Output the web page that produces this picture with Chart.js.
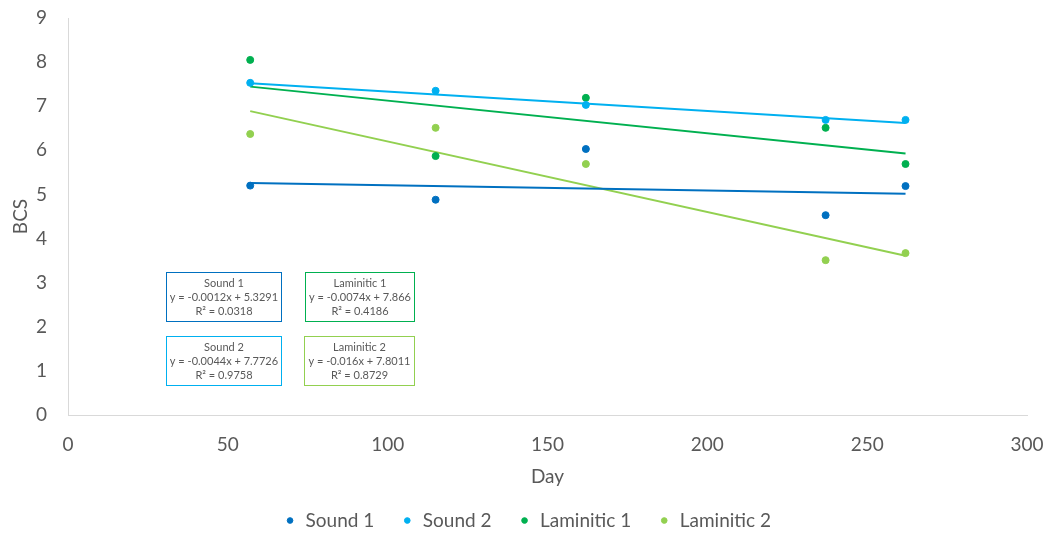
<!DOCTYPE html>
<html>
<head>
<meta charset="utf-8">
<script src="https://cdn.jsdelivr.net/npm/chart.js@4/dist/chart.umd.min.js"></script>
<style>
  html, body { margin: 0; padding: 0; background: #fff; }
  #wrap { width: 1055px; height: 533px; }
</style>
</head>
<body>
<div id="wrap"><canvas id="myChart" width="1055" height="533"></canvas></div>
<script>
// values
const days = [57, 115, 162, 237, 262];
const sound1 = [5.2, 4.88, 6.03, 4.53, 5.19];
const sound2 = [7.53, 7.35, 7.03, 6.69, 6.69];
const laminitic1 = [8.05, 5.87, 7.19, 6.51, 5.69];
const laminitic2 = [6.37, 6.51, 5.69, 3.51, 3.67];

const seriesNames = ["Sound 1", "Sound 2", "Laminitic 1", "Laminitic 2"];
const seriesColors = ["#0070C0", "#00B0F0", "#00B050", "#92D050"];
// trendline equations as printed in the boxes
const slopes = [-0.0012, -0.0044, -0.0074, -0.016];
const intercepts = [5.3291, 7.7726, 7.866, 7.8011];
const eqLabels = ["y = -0.0012x + 5.3291", "y = -0.0044x + 7.7726", "y = -0.0074x + 7.866", "y = -0.016x + 7.8011"];
const r2Labels = ["R² = 0.0318", "R² = 0.9758", "R² = 0.4186", "R² = 0.8729"];

const FONT = "Lato, 'Open Sans', sans-serif";
const TXT = "#595959";
const allSeries = [sound1, sound2, laminitic1, laminitic2];

const datasets = [];
allSeries.forEach((vals, i) => {
  datasets.push({
    label: seriesNames[i],
    data: days.map((d, k) => ({ x: d, y: vals[k] })),
    backgroundColor: seriesColors[i],
    borderColor: seriesColors[i],
    pointRadius: 3.5,
    pointHoverRadius: 3.5,
    pointStyle: "circle",
    showLine: false,
    order: 1,
  });
});
allSeries.forEach((vals, i) => {
  const x0 = days[0], x1 = days[days.length - 1];
  datasets.push({
    label: "trend " + seriesNames[i],
    data: [
      { x: x0, y: slopes[i] * x0 + intercepts[i] },
      { x: x1, y: slopes[i] * x1 + intercepts[i] },
    ],
    borderColor: seriesColors[i],
    borderWidth: 2,
    pointRadius: 0,
    showLine: true,
    fill: false,
    order: 2,
  });
});

// box anchors (data units): left-top corner, right edge
const boxes = [
  { s: 0, x0: 30.7, x1: 66.6, y: 3.24 },
  { s: 2, x0: 74.2, x1: 108.3, y: 3.24 },
  { s: 1, x0: 30.7, x1: 66.6, y: 1.79 },
  { s: 3, x0: 73.9, x1: 108.3, y: 1.79 },
];

const eqBoxes = {
  id: "eqBoxes",
  afterDatasetsDraw(chart) {
    const ctx = chart.ctx;
    const xs = chart.scales.x, ys = chart.scales.y;
    ctx.save();
    boxes.forEach((b) => {
      const left = Math.round(xs.getPixelForValue(b.x0)) + 0.5;
      const right = Math.round(xs.getPixelForValue(b.x1)) + 0.5;
      const top = Math.round(ys.getPixelForValue(b.y)) + 0.5;
      const h = 49;
      ctx.fillStyle = "#fff";
      ctx.fillRect(left, top, right - left, h);
      ctx.strokeStyle = seriesColors[b.s];
      ctx.lineWidth = 1;
      ctx.strokeRect(left, top, right - left, h);
      ctx.fillStyle = TXT;
      ctx.font = "11px " + FONT;
      ctx.textAlign = "center";
      ctx.textBaseline = "middle";
      const cx = (left + right) / 2;
      ctx.fillText(seriesNames[b.s], cx, top + 11);
      ctx.fillText(eqLabels[b.s], cx, top + 25);
      ctx.fillText(r2Labels[b.s], cx, top + 39);
    });
    ctx.restore();
  },
};

new Chart(document.getElementById("myChart").getContext("2d"), {
  type: "scatter",
  data: { datasets: datasets },
  options: {
    responsive: false,
    animation: false,
    layout: { padding: { top: 18, right: 0, left: 0, bottom: -7 } },
    scales: {
      x: {
        type: "linear",
        min: 0,
        max: 300,
        grid: { display: false },
        border: { display: true, color: "#D9D9D9", width: 1 },
        ticks: { stepSize: 50, color: TXT, font: { family: FONT, size: 19 }, padding: 10 },
        title: { display: true, text: "Day", color: TXT, font: { family: FONT, size: 19 }, padding: { top: 0, bottom: -4 } },
        afterFit: (s) => { s.height = 69; s.paddingLeft = 0; s.paddingRight = 28; },
      },
      y: {
        min: 0,
        max: 9,
        grid: { display: false },
        border: { display: true, color: "#D9D9D9", width: 1 },
        ticks: { stepSize: 1, color: TXT, font: { family: FONT, size: 19 }, padding: 13 },
        title: { display: true, text: "BCS", color: TXT, font: { family: FONT, size: 19 }, padding: { top: 9, bottom: 0 } },
        afterFit: (s) => { s.width = 68; s.paddingTop = 0; s.paddingBottom = 0; },
      },
    },
    plugins: {
      tooltip: { enabled: false },
      legend: {
        position: "bottom",
        labels: {
          filter: (item) => item.datasetIndex < 4,
          usePointStyle: true,
          pointStyle: "circle",
          boxWidth: 12,
          boxHeight: 4,
          padding: 27,
          color: TXT,
          font: { family: FONT, size: 19 },
        },
      },
    },
  },
  plugins: [eqBoxes],
});
</script>
</body>
</html>
